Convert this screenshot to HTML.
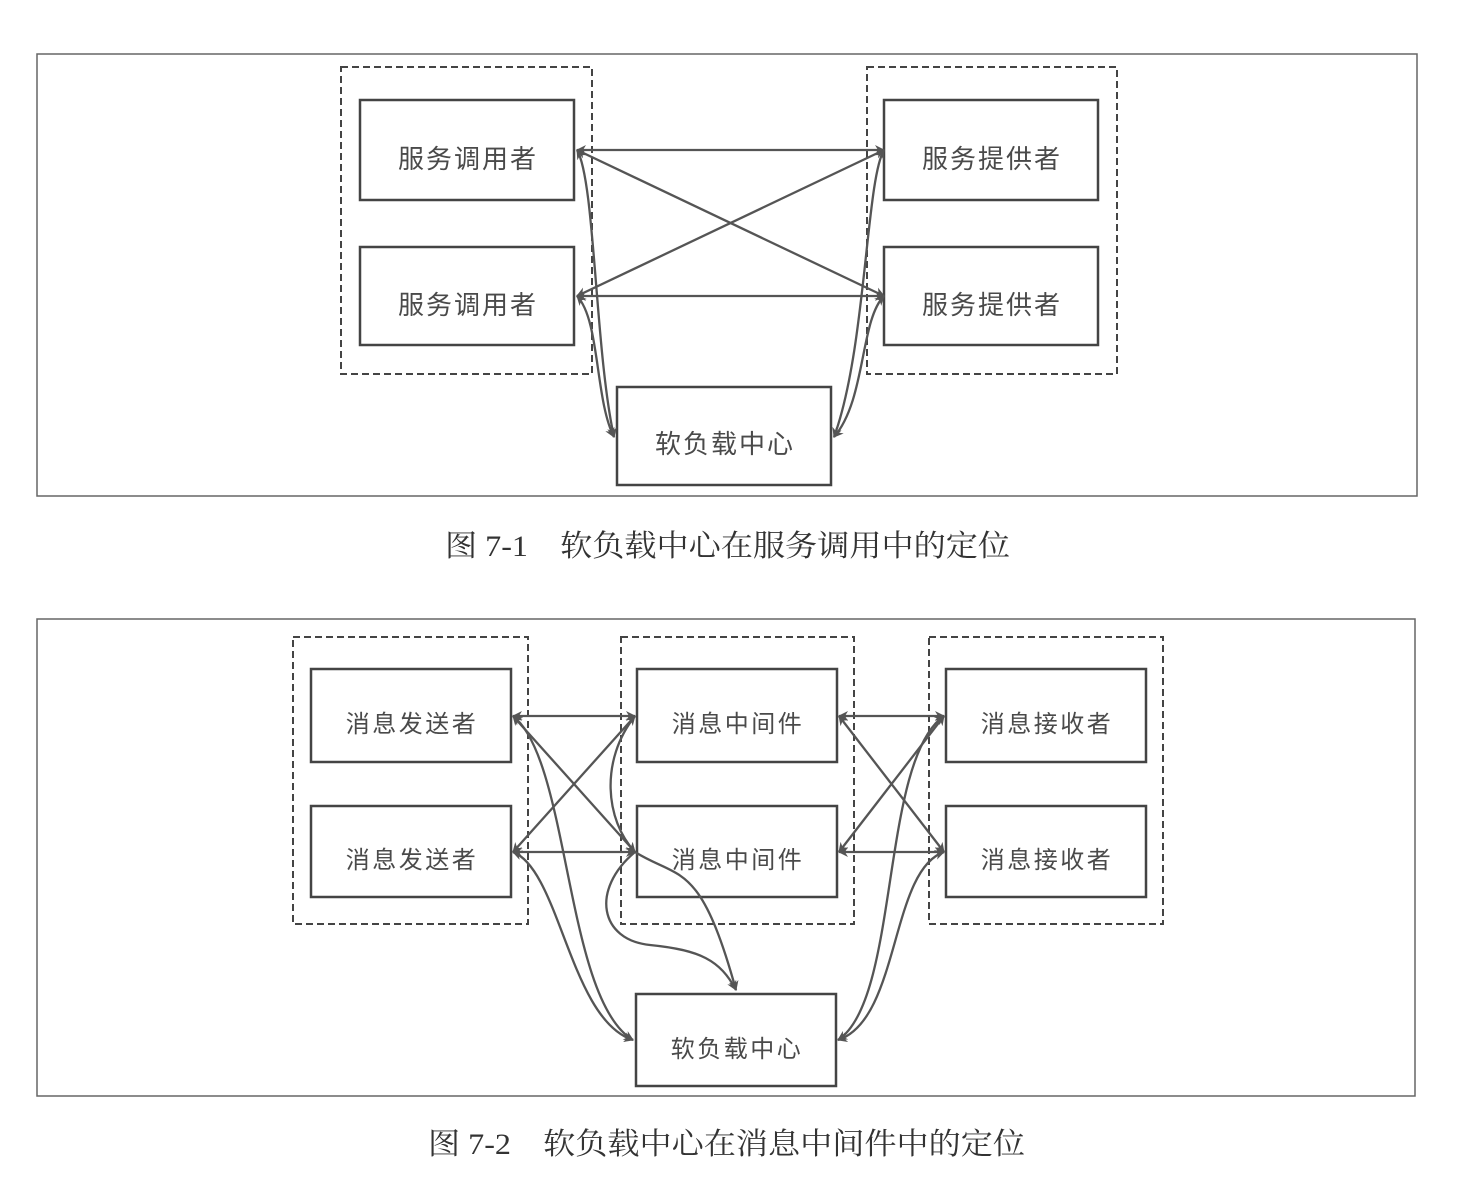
<!DOCTYPE html>
<html><head><meta charset="utf-8"><style>
html,body{margin:0;padding:0;background:#fff;}
svg{display:block;}
.b{fill:#fff;stroke:#444;stroke-width:2.5}
.d{fill:none;stroke:#444;stroke-width:2;stroke-dasharray:7,4}
.l{fill:none;stroke:#555;stroke-width:2.3}
.t{font-family:"Liberation Sans","Noto Sans CJK SC",sans-serif;fill:#4a4a4a;text-anchor:middle}
.c{font-family:"Liberation Serif","Noto Serif CJK SC",serif;fill:#333;font-size:30px}
</style></head><body>
<svg width="1480" height="1196" viewBox="0 0 1480 1196" xmlns="http://www.w3.org/2000/svg">
<defs>
<marker id="a" markerWidth="10" markerHeight="10" refX="9" refY="5" orient="auto-start-reverse" markerUnits="userSpaceOnUse">
<path d="M0,0 L10,5 L0,10 L3,5 Z" fill="#555"/></marker>
</defs>
<!-- Diagram 1 -->
<rect x="37" y="54" width="1380" height="442" fill="none" stroke="#666" stroke-width="1.5"/>
<rect class="d" x="341" y="67" width="251" height="307"/>
<rect class="d" x="867" y="67" width="250" height="307"/>
<rect class="b" x="360" y="100" width="214" height="100"/>
<rect class="b" x="360" y="247" width="214" height="98"/>
<rect class="b" x="884" y="100" width="214" height="100"/>
<rect class="b" x="884" y="247" width="214" height="98"/>
<rect class="b" x="617" y="387" width="214" height="98"/>
<g class="t" font-size="26" letter-spacing="2">
<text x="468" y="168">服务调用者</text>
<text x="468" y="314">服务调用者</text>
<text x="992" y="168">服务提供者</text>
<text x="992" y="314">服务提供者</text>
<text x="725" y="453">软负载中心</text>
</g>
<g class="l" marker-start="url(#a)" marker-end="url(#a)">
<path d="M577,150 L884,150"/>
<path d="M577,296 L884,296"/>
<path d="M577,150 L884,296"/>
<path d="M577,296 L884,150"/>
<path d="M577,150 C595,180 595,350 614,437"/>
<path d="M577,296 C600,320 595,400 614,437"/>
<path d="M884,150 C866,180 866,350 834,437"/>
<path d="M884,296 C860,320 866,400 834,437"/>
</g>
<text class="c" x="445" y="556" textLength="565" lengthAdjust="spacingAndGlyphs">图 7-1　软负载中心在服务调用中的定位</text>
<!-- Diagram 2 -->
<rect x="37" y="619" width="1378" height="477" fill="none" stroke="#666" stroke-width="1.5"/>
<rect class="d" x="293" y="637" width="235" height="287"/>
<rect class="d" x="621" y="637" width="233" height="287"/>
<rect class="d" x="929" y="637" width="234" height="287"/>
<rect class="b" x="311" y="669" width="200" height="93"/>
<rect class="b" x="311" y="806" width="200" height="91"/>
<rect class="b" x="637" y="669" width="200" height="93"/>
<rect class="b" x="637" y="806" width="200" height="91"/>
<rect class="b" x="946" y="669" width="200" height="93"/>
<rect class="b" x="946" y="806" width="200" height="91"/>
<rect class="b" x="636" y="994" width="200" height="92"/>
<g class="t" font-size="24" letter-spacing="2.5">
<text x="412" y="732">消息发送者</text>
<text x="412" y="868">消息发送者</text>
<text x="738" y="732">消息中间件</text>
<text x="738" y="868">消息中间件</text>
<text x="1047" y="732">消息接收者</text>
<text x="1047" y="868">消息接收者</text>
<text x="737" y="1057">软负载中心</text>
</g>
<g class="l" marker-start="url(#a)" marker-end="url(#a)">
<path d="M513,716 L635,716"/>
<path d="M513,852 L635,852"/>
<path d="M513,716 L635,852"/>
<path d="M513,852 L635,716"/>
<path d="M839,716 L944,716"/>
<path d="M839,852 L944,852"/>
<path d="M839,716 L944,852"/>
<path d="M839,852 L944,716"/>
<path d="M513,716 C570,760 565,1000 633,1040"/>
<path d="M513,852 C560,870 570,1020 633,1040"/>
<path d="M944,716 C880,760 900,1000 838,1040"/>
<path d="M944,852 C890,870 900,1020 838,1040"/>
<path d="M635,716 C600,760 605,820 635,852" marker-start="none"/>
<path d="M635,852 C680,880 700,860 736,990" marker-start="none"/>
<path d="M635,852 C590,890 600,940 650,945 C700,950 720,960 736,990" marker-start="none"/>
</g>
<text class="c" x="428" y="1154" textLength="597" lengthAdjust="spacingAndGlyphs">图 7-2　软负载中心在消息中间件中的定位</text>
</svg>
</body></html>
